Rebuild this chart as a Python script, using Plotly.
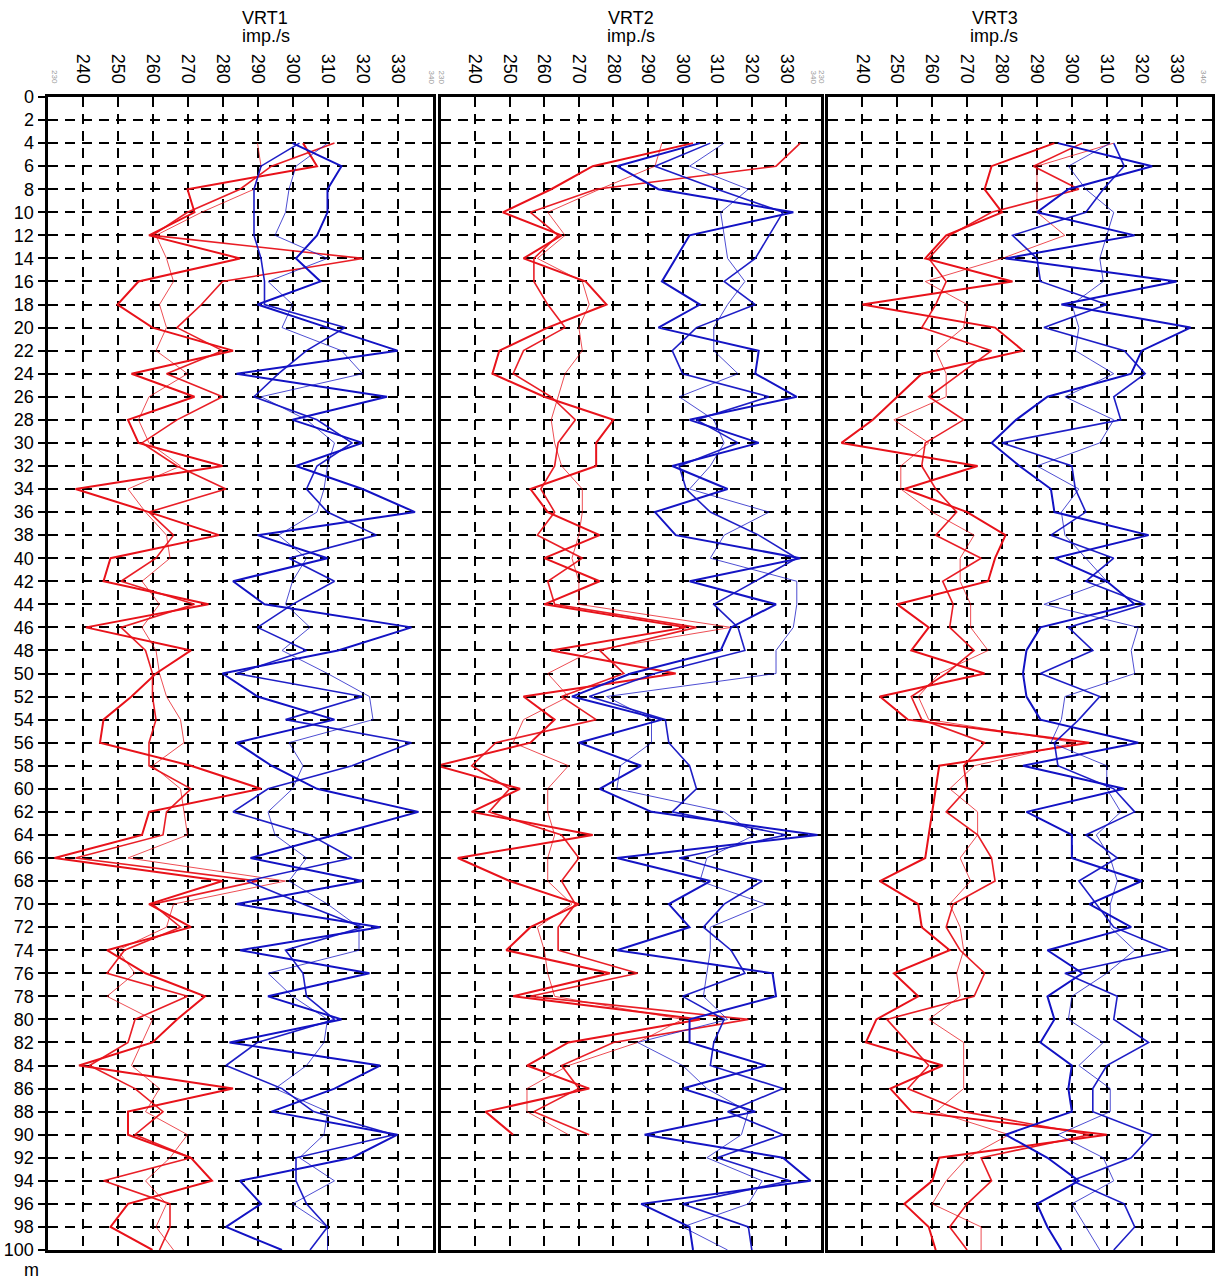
import plotly.graph_objects as go

# ---------------- data ----------------
panels = ["VRT1", "VRT2", "VRT3"]
unit = "imp./s"
x_ticks = [240, 250, 260, 270, 280, 290, 300, 310, 320, 330]
y_ticks = list(range(0, 101, 2))
depth = list(range(4, 101, 2))          # 4 .. 100 m
depth_vrt2_red = list(range(4, 91, 2))  # red curves of VRT2 stop at 90 m

vrt1_red_a = [303,307,270,272,259,285,256,250,260,283,254,272,253,256,280,238,259,279,248,246,276,241,271,261,
              254,246,245,271,291,259,257,232,280,259,271,247,258,275,267,260,239,283,253,253,271,277,253,248,260]
vrt1_red_b = [312,294,285,270,260,320,280,274,267,280,264,280,267,257,267,281,259,266,261,251,272,251,258,260,
              260,261,259,259,271,264,263,238,290,260,268,252,247,270,255,253,242,255,263,255,271,246,265,265,262]
vrt1_red_c = [290,291,289,274,261,264,266,262,264,261,270,259,256,259,268,253,258,264,265,257,262,257,261,262,
              264,268,269,260,268,269,270,253,298,266,264,250,255,247,260,257,254,262,258,270,265,258,264,261,266]
vrt1_blue_a = [300,314,310,310,307,301,308,290,310,330,284,327,300,320,301,320,335,290,310,283,292,334,313,280,
               290,312,284,294,307,336,312,288,320,284,325,285,322,293,314,282,325,312,294,330,317,285,291,281,297]
vrt1_blue_b = [302,291,289,289,289,291,292,292,315,304,296,289,307,317,307,304,310,324,299,312,300,290,304,284,
               320,298,334,317,293,283,305,317,287,303,320,298,303,304,312,290,281,297,306,329,301,301,304,310,305]
vrt1_blue_c = [310,301,299,298,295,310,293,300,297,314,320,291,304,312,310,309,307,296,304,300,298,305,297,310,
               322,323,299,303,300,293,295,304,299,310,319,319,293,300,310,309,304,295,310,309,302,312,300,310,310]

vrt2_red_a = [303,274,262,248,265,254,272,278,261,247,245,260,280,275,275,256,261,276,260,276,260,301,262,298,
              254,263,256,229,253,239,274,235,250,270,256,249,279,251,305,267,255,273,243,251]
vrt2_red_b = [334,327,275,256,264,257,257,261,266,254,251,262,269,264,263,259,263,258,271,261,263,304,276,283,
              265,275,246,239,250,244,265,270,265,269,264,264,287,256,319,280,265,270,257,273]
vrt2_red_c = [294,292,276,261,266,258,271,273,270,271,266,264,262,263,265,271,271,270,268,270,270,314,274,261,
              267,254,251,267,261,261,263,261,261,268,258,260,261,263,300,287,267,255,255,267]
vrt2_blue_a = [305,281,293,332,302,298,294,305,293,322,321,333,302,322,297,313,292,298,334,302,327,314,311,285,
               268,294,270,288,276,291,339,281,308,296,302,281,326,327,302,302,324,300,321,289,329,337,288,302,303]
vrt2_blue_b = [308,292,310,329,325,321,312,321,304,297,300,325,304,316,299,301,308,322,333,321,309,316,318,292,
               273,295,296,302,304,297,330,299,323,312,306,314,318,300,312,309,308,329,313,329,310,331,300,319,320]
vrt2_blue_c = [312,302,319,311,312,313,318,313,309,309,316,299,309,312,308,302,325,312,308,333,333,332,327,327,
               278,291,291,282,281,312,321,307,305,324,308,308,307,306,313,287,300,307,319,317,307,323,319,300,313]

vrt3_red_a = [295,277,275,280,264,258,283,240,278,286,257,250,243,234,273,252,270,281,278,276,250,259,254,275,
              245,253,305,262,261,260,259,258,245,256,257,265,249,256,244,241,263,248,254,310,262,260,252,259,261]
vrt3_red_b = [303,289,302,277,265,259,264,261,257,277,268,259,269,258,257,261,267,261,274,263,266,265,272,264,
              254,257,275,269,270,264,273,277,278,266,264,268,275,272,247,253,259,253,269,305,274,277,270,265,270]
vrt3_red_c = [312,290,290,290,298,280,258,270,269,261,264,264,249,259,251,251,260,272,268,268,271,271,276,262,
              256,259,301,272,265,273,273,268,271,265,268,269,267,268,259,269,269,269,261,282,270,264,260,274,274]
vrt3_blue_a = [296,323,299,290,318,281,330,297,334,320,317,293,284,277,285,294,295,322,295,310,318,291,287,286,
               287,291,319,286,315,287,300,300,320,305,317,293,303,293,295,291,300,299,300,281,293,302,290,293,297]
vrt3_blue_b = [312,315,309,304,283,290,291,310,292,315,321,312,314,280,300,301,304,294,312,304,321,299,306,291,
               308,302,295,296,312,318,304,313,302,307,312,328,298,313,312,322,310,306,306,323,317,300,315,318,312]
vrt3_blue_c = [311,299,304,312,310,308,309,300,302,301,312,298,312,308,290,302,297,298,304,310,292,319,317,318,
               298,297,294,310,310,314,307,311,313,311,311,318,310,300,299,309,302,311,311,296,309,312,300,304,308]

# ---------------- styling ----------------
W, H = 1216, 1285
RED = "#e8141c"
BLUE = "#1414c4"
font_family = "Liberation Sans, Arial, sans-serif"

px_domains = [(47.5, 432.5), (440.5, 821.0), (827.5, 1211.5)]
x_domains = [(a / W, b / W) for a, b in px_domains]
y_domain = ((H - 1250) / H, (H - 97) / H)

series = [
    [(vrt1_red_a, depth, RED, 2.0, 1.0), (vrt1_red_b, depth, RED, 1.6, 0.95), (vrt1_red_c, depth, RED, 1.0, 0.75),
     (vrt1_blue_a, depth, BLUE, 2.0, 1.0), (vrt1_blue_b, depth, BLUE, 1.6, 0.95), (vrt1_blue_c, depth, BLUE, 1.0, 0.75)],
    [(vrt2_red_a, depth_vrt2_red, RED, 2.0, 1.0), (vrt2_red_b, depth_vrt2_red, RED, 1.6, 0.95),
     (vrt2_red_c, depth_vrt2_red, RED, 1.0, 0.75),
     (vrt2_blue_a, depth, BLUE, 2.0, 1.0), (vrt2_blue_b, depth, BLUE, 1.6, 0.95), (vrt2_blue_c, depth, BLUE, 1.0, 0.75)],
    [(vrt3_red_a, depth, RED, 2.0, 1.0), (vrt3_red_b, depth, RED, 1.6, 0.95), (vrt3_red_c, depth, RED, 1.0, 0.75),
     (vrt3_blue_a, depth, BLUE, 2.0, 1.0), (vrt3_blue_b, depth, BLUE, 1.6, 0.95), (vrt3_blue_c, depth, BLUE, 1.0, 0.75)],
]

fig = go.Figure()
for i, group in enumerate(series):
    xa = "x" if i == 0 else f"x{i+1}"
    ya = "y" if i == 0 else f"y{i+1}"
    for vals, dep, col, lw, op in group:
        fig.add_trace(go.Scatter(x=vals, y=dep, mode="lines", xaxis=xa, yaxis=ya,
                                 line=dict(color=col, width=lw), opacity=op,
                                 showlegend=False, hoverinfo="skip"))

layout = dict(width=W, height=H, margin=dict(l=0, r=0, t=0, b=0, autoexpand=False),
              paper_bgcolor="white", plot_bgcolor="white",
              font=dict(family=font_family, color="black"))

for i in range(3):
    xk = "xaxis" if i == 0 else f"xaxis{i+1}"
    yk = "yaxis" if i == 0 else f"yaxis{i+1}"
    ya = "y" if i == 0 else f"y{i+1}"
    xa = "x" if i == 0 else f"x{i+1}"
    layout[xk] = dict(domain=list(x_domains[i]), anchor=ya, range=[230, 340], side="top",
                      tickmode="array", tickvals=x_ticks, ticktext=[str(v) for v in x_ticks],
                      tickangle=90, tickfont=dict(size=18, color="black"), ticklabelstandoff=4,
                      ticks="inside", ticklen=8, tickwidth=2, tickcolor="black",
                      showline=True, linewidth=3, linecolor="black", mirror=True,
                      showgrid=True, gridcolor="black", gridwidth=2, griddash="10px,7px",
                      zeroline=False, fixedrange=True, automargin=False)
    layout[yk] = dict(domain=list(y_domain), anchor=xa, range=[100, 0],
                      tickmode="array", tickvals=y_ticks, ticktext=[str(v) for v in y_ticks],
                      tickfont=dict(size=18, color="black"),
                      ticks="outside" if i == 0 else "", ticklen=7, tickwidth=2, tickcolor="black",
                      showticklabels=(i == 0),
                      showline=True, linewidth=3, linecolor="black", mirror=True,
                      showgrid=True, gridcolor="black", gridwidth=2, griddash="10px,7px",
                      zeroline=False, fixedrange=True, automargin=False)
fig.update_layout(**layout)

annotations = []
for i, name in enumerate(panels):
    x0, x1 = x_domains[i]
    xc = (x0 + x1) / 2
    annotations.append(dict(x=xc, y=1 - 18 / H, xref="paper", yref="paper", text=name,
                            showarrow=False, font=dict(size=18, color="black"), yanchor="middle"))
    annotations.append(dict(x=xc, y=1 - 36 / H, xref="paper", yref="paper", text=unit,
                            showarrow=False, font=dict(size=18, color="black"), yanchor="middle"))
    # tiny grey end labels
    for xv, lab in ((x0 + 1 / W, "230"), (x1 - 1 / W, "340")):
        annotations.append(dict(x=xv, y=1 - 77 / H, xref="paper", yref="paper", text=lab,
                                textangle=90, showarrow=False,
                                font=dict(size=8, color="#999999"), yanchor="middle"))
annotations.append(dict(x=22 / W, y=1 - 1270 / H, xref="paper", yref="paper", text="m",
                        showarrow=False, font=dict(size=18, color="black"), yanchor="middle"))
fig.update_layout(annotations=annotations)

fig.write_html("out.html", config={"displayModeBar": False},
               post_script="document.body.style.margin='0px';")
